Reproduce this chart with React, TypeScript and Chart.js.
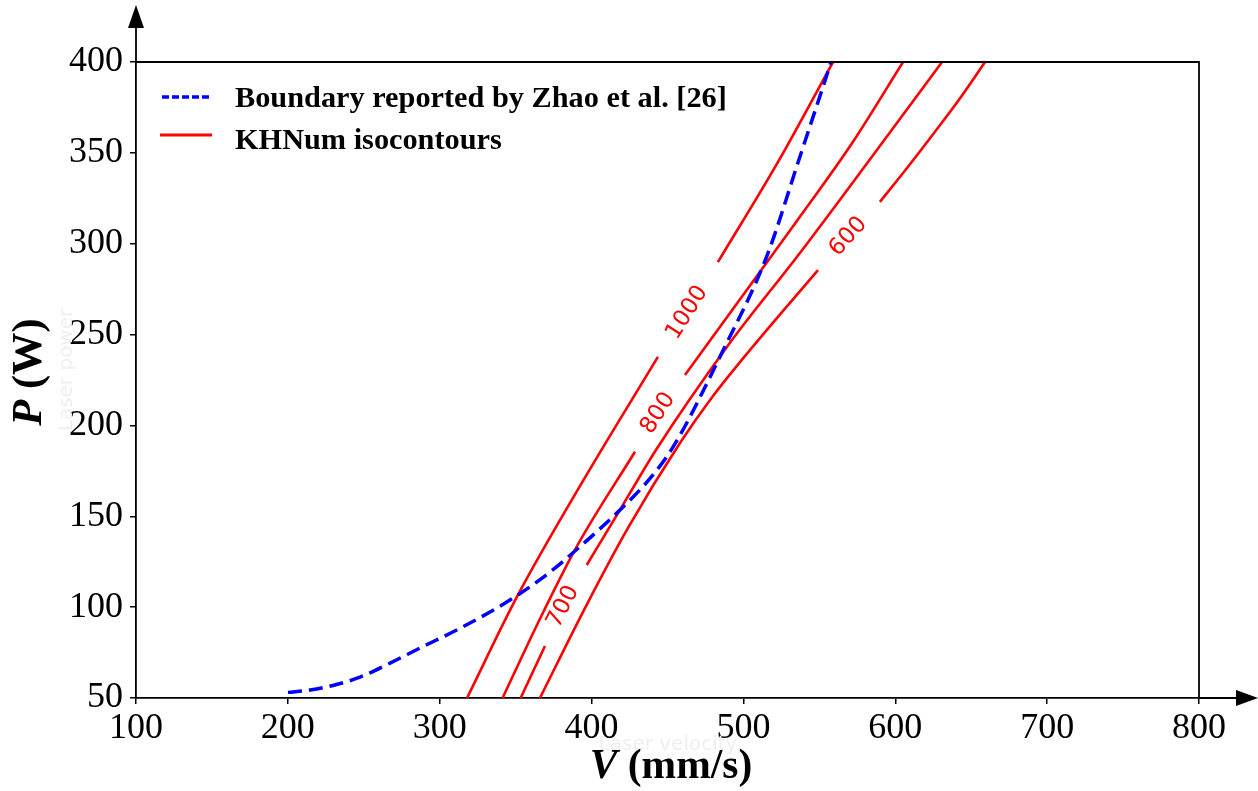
import React, { useEffect, useRef } from "react";
import { Chart, registerables } from "chart.js";

Chart.register(...registerables);

// ---------- data ----------
const xTicks = [100, 200, 300, 400, 500, 600, 700, 800];
const yTicks = [50, 100, 150, 200, 250, 300, 350, 400];

// Boundary reported by Zhao et al. [26]
const boundaryV = [200.1, 214.6, 229.7, 247.5, 267.3, 287.0, 311.2, 333.1, 351.5, 372.6, 392.4, 418.7, 438.5, 453.8, 486.7, 515.3, 537.2, 552.4, 557.7];
const boundaryP = [53.1, 54.4, 56.9, 61.5, 69.2, 77.5, 87.4, 97.3, 106.7, 119.3, 133.3, 153.5, 170.8, 188.3, 241.5, 292.9, 347.9, 386.4, 400];

// KHNum isocontours (null = gap where the contour label sits)
const contourLevels = ["1000", "800", "700", "600"];
const c1000V = [318.0, 351.5, 396.3, 443.7, null, 483.2, 522.8, 559.0];
const c1000P = [50, 106.7, 172.2, 237.7, null, 289.9, 345.0, 400];
const c800V = [341.4, 364.7, 390.2, 428.6, null, 461.5, 533.3, 571.6, 605.1];
const c800P = [50, 91.3, 133.3, 185.5, null, 227.8, 310.3, 355.4, 400];
const c700V = [353.3, 369.3, null, 396.8, 418.7, 442.4, 489.1, 537.2, 584.0, 630.8];
const c700P = [50, 78.6, null, 123.2, 153.5, 186.5, 243.2, 294.9, 347.2, 400];
const c600V = [366.0, 395.0, 424.0, 458.2, 479.0, 504.3, 549.1, null, 589.9, 608.5, 626.0, 643.0, 659.1];
const c600P = [50, 98.4, 143.6, 190.3, 215.1, 241.5, 285.5, null, 323.0, 342.5, 361.5, 380.5, 400];

// contour label anchor positions (data coords)
const labelV = [463.0, 443.9, 381.4, 569.1];
const labelP = [262.0, 206.7, 100.2, 303.9];

const legendLabels = ["Boundary reported by Zhao et al. [26]", "KHNum isocontours"];

const contourV = [c1000V, c800V, c700V, c600V];
const contourP = [c1000P, c800P, c700P, c600P];

const toPoints = (V: (number | null)[], P: (number | null)[]) =>
  V.map((v, i) => ({ x: v, y: P[i] }));

const SERIF = '"Liberation Serif", "Times New Roman", serif';

const overlayPlugin = {
  id: "overlay",
  afterDraw(chart: any) {
    const ctx = chart.ctx as CanvasRenderingContext2D;
    const { left, right, top, bottom } = chart.chartArea;
    const xs = chart.scales.x;
    const ys = chart.scales.y;
    ctx.save();

    // frame top + right
    ctx.strokeStyle = "#000";
    ctx.lineWidth = 1.8;
    ctx.beginPath();
    ctx.moveTo(left, top);
    ctx.lineTo(right, top);
    ctx.lineTo(right, bottom);
    ctx.stroke();

    // arrows
    ctx.beginPath();
    ctx.moveTo(left, top);
    ctx.lineTo(left, 26);
    ctx.moveTo(right, bottom);
    ctx.lineTo(1240, bottom);
    ctx.stroke();
    ctx.fillStyle = "#000";
    ctx.beginPath();
    ctx.moveTo(left, 5);
    ctx.lineTo(left - 8, 28);
    ctx.lineTo(left + 8, 28);
    ctx.closePath();
    ctx.fill();
    ctx.beginPath();
    ctx.moveTo(1258, bottom);
    ctx.lineTo(1236, bottom - 8);
    ctx.lineTo(1236, bottom + 8);
    ctx.closePath();
    ctx.fill();

    // contour labels
    ctx.fillStyle = "#ff0000";
    ctx.font = '23px "DejaVu Sans", sans-serif';
    ctx.textAlign = "center";
    ctx.textBaseline = "middle";
    contourLevels.forEach((lvl, k) => {
      const V = contourV[k];
      const P = contourP[k];
      const g = V.indexOf(null);
      const x1 = xs.getPixelForValue(V[g - 1]);
      const y1 = ys.getPixelForValue(P[g - 1]);
      const x2 = xs.getPixelForValue(V[g + 1]);
      const y2 = ys.getPixelForValue(P[g + 1]);
      const ang = Math.atan2(y2 - y1, x2 - x1);
      ctx.save();
      ctx.translate(xs.getPixelForValue(labelV[k]), ys.getPixelForValue(labelP[k]));
      ctx.rotate(ang);
      ctx.fillText(lvl, 0, 0);
      ctx.restore();
    });

    // legend
    ctx.lineWidth = 3.5;
    ctx.strokeStyle = "#0000ff";
    ctx.setLineDash([7, 3]);
    ctx.beginPath();
    ctx.moveTo(162, 97);
    ctx.lineTo(212, 97);
    ctx.stroke();
    ctx.setLineDash([]);
    ctx.strokeStyle = "#ff0000";
    ctx.lineWidth = 3;
    ctx.beginPath();
    ctx.moveTo(160, 135);
    ctx.lineTo(212, 135);
    ctx.stroke();
    ctx.fillStyle = "#000";
    ctx.font = "bold 30.3px " + SERIF;
    ctx.textAlign = "left";
    ctx.textBaseline = "alphabetic";
    ctx.fillText(legendLabels[0], 235, 107);
    ctx.fillText(legendLabels[1], 235, 149);

    // faint watermark texts
    ctx.fillStyle = "#efefef";
    ctx.font = '20px "DejaVu Sans", sans-serif';
    ctx.textAlign = "center";
    ctx.textBaseline = "middle";
    ctx.fillText("Laser velocity", 668, 745);
    ctx.save();
    ctx.translate(67, 370);
    ctx.rotate(-Math.PI / 2);
    ctx.fillText("Laser power", 0, 0);
    ctx.restore();

    // axis titles
    ctx.fillStyle = "#000";
    ctx.textAlign = "left";
    ctx.textBaseline = "alphabetic";
    const drawTitle = (a: string, b: string, size: number) => {
      ctx.font = `italic bold ${size}px ${SERIF}`;
      const wa = ctx.measureText(a).width;
      ctx.font = `bold ${size}px ${SERIF}`;
      const wb = ctx.measureText(b).width;
      const start = -(wa + wb) / 2;
      ctx.font = `italic bold ${size}px ${SERIF}`;
      ctx.fillText(a, start, 0);
      ctx.font = `bold ${size}px ${SERIF}`;
      ctx.fillText(b, start + wa, 0);
    };
    ctx.save();
    ctx.translate(671, 778);
    drawTitle("V", " (mm/s)", 41.5);
    ctx.restore();
    ctx.save();
    ctx.translate(41, 372);
    ctx.rotate(-Math.PI / 2);
    drawTitle("P", " (W)", 42.5);
    ctx.restore();

    ctx.restore();
  },
};

export default function App() {
  const ref = useRef<HTMLCanvasElement | null>(null);
  useEffect(() => {
    document.body.style.margin = "0";
    const canvas = ref.current!;
    const datasets: any[] = [
      {
        label: legendLabels[0],
        data: toPoints(boundaryV, boundaryP),
        borderColor: "#0000ff",
        borderWidth: 3.5,
        borderDash: [14, 7],
        pointRadius: 0,
        cubicInterpolationMode: "monotone",
        fill: false,
      },
      ...contourLevels.map((lvl, k) => ({
        label: lvl,
        data: toPoints(contourV[k], contourP[k]),
        borderColor: "#ff0000",
        borderWidth: 2.6,
        pointRadius: 0,
        cubicInterpolationMode: "monotone",
        spanGaps: false,
        fill: false,
      })),
    ];
    const tickFont = { family: SERIF, size: 36 };
    const chart = new Chart(canvas, {
      type: "line",
      data: { datasets },
      options: {
        animation: false,
        responsive: false,
        devicePixelRatio: 1,
        layout: { padding: { left: 0, top: 62, right: 59, bottom: 0 } },
        plugins: { legend: { display: false }, tooltip: { enabled: false } },
        scales: {
          x: {
            type: "linear",
            min: 100,
            max: 800,
            afterBuildTicks: (s: any) => {
              s.ticks = xTicks.map((v) => ({ value: v }));
            },
            afterFit: (s: any) => {
              s.height = 93;
            },
            ticks: { font: tickFont, color: "#000", padding: 3, maxRotation: 0, autoSkip: false },
            grid: { display: true, drawOnChartArea: false, drawTicks: true, tickLength: 6, color: "#000", lineWidth: 1.5 },
            border: { display: true, color: "#000", width: 1.8 },
          },
          y: {
            type: "linear",
            min: 50,
            max: 400,
            afterBuildTicks: (s: any) => {
              s.ticks = yTicks.map((v) => ({ value: v }));
            },
            afterFit: (s: any) => {
              s.width = 136;
            },
            ticks: { font: tickFont, color: "#000", padding: 7, autoSkip: false },
            grid: { display: true, drawOnChartArea: false, drawTicks: true, tickLength: 6, color: "#000", lineWidth: 1.5 },
            border: { display: true, color: "#000", width: 1.8 },
          },
        },
      } as any,
      plugins: [overlayPlugin],
    });
    return () => chart.destroy();
  }, []);
  return (
    <canvas
      ref={ref}
      width={1258}
      height={791}
      style={{ display: "block", width: 1258, height: 791 }}
    />
  );
}
